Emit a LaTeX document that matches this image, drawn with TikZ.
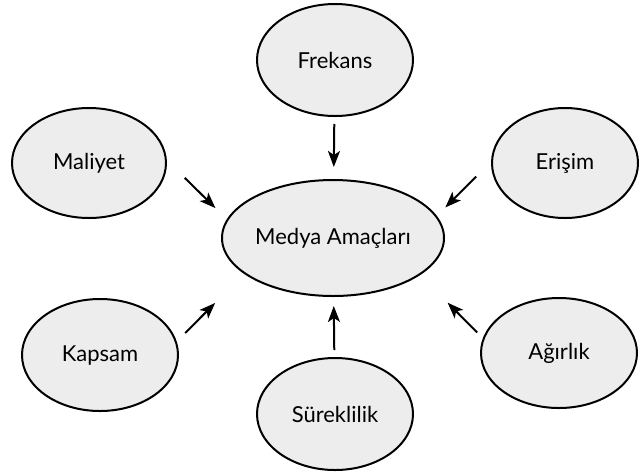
\documentclass[tikz,border=0pt]{standalone}
\usepackage{fontspec}
\setmainfont{Lato}
\usetikzlibrary{arrows.meta,shapes.geometric}
\definecolor{bubblefill}{HTML}{EDEDED}
\begin{document}
\begin{tikzpicture}[x=1pt,y=-1pt,
  bubble/.style={ellipse,draw=black,line width=2pt,fill=bubblefill,
    inner sep=0pt,font=\fontsize{22}{26}\selectfont},
  arr/.style={line width=2pt,-{Stealth[length=16pt,width=12pt,inset=4pt]}}]
\useasboundingbox (0,0) rectangle (639,475);
% central goal
\node[bubble,minimum width=222pt,minimum height=116pt] (med) at (333,238) {Medya Amaçları};
% surrounding factors
\node[bubble,minimum width=156pt,minimum height=112pt] (fr)  at (335,60)  {Frekans};
\node[bubble,minimum width=154pt,minimum height=110pt] (mal) at (89,163)  {Maliyet};
\node[bubble,minimum width=146pt,minimum height=110pt] (er)  at (565,163) {Erişim};
\node[bubble,minimum width=156pt,minimum height=112pt] (kap) at (100,355) {Kapsam};
\node[bubble,minimum width=156pt,minimum height=110pt] (ag)  at (559,353) {Ağırlık};
\node[bubble,minimum width=156pt,minimum height=112pt] (sur) at (335,414) {Süreklilik};
% arrows pointing at the goal
\draw[arr,shorten <=7pt,shorten >=12pt] (fr) -- (med);
\draw[arr,shorten <=7pt,shorten >=9pt] (sur) -- (med);
\draw[arr,shorten <=25pt,shorten >=16pt] (mal.2) -- (med.170);
\draw[arr,shorten <=21pt,shorten >=12pt] (er.179) -- (med.12);
\draw[arr,shorten <=12pt,shorten >=41pt] (kap.10) -- (med.202);
\draw[arr,shorten <=8pt,shorten >=39pt] (ag.169) -- (med.337);
\end{tikzpicture}
\end{document}
